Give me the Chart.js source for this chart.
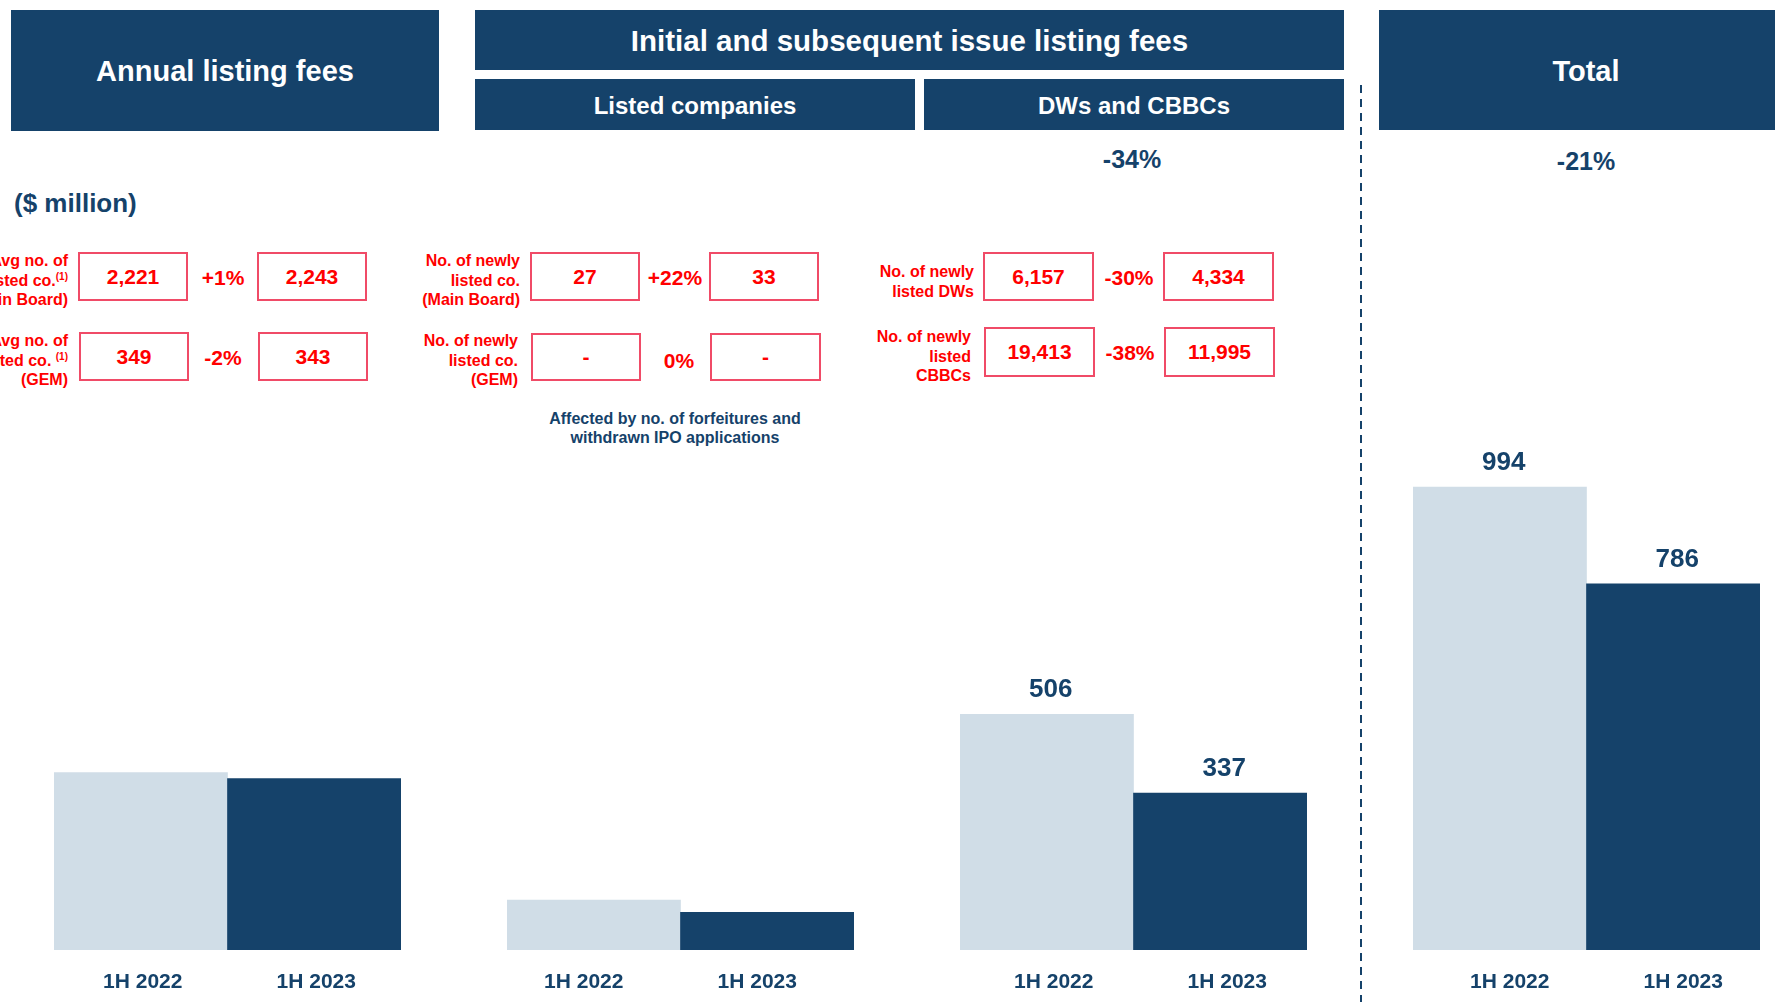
<!DOCTYPE html>
<html><head><meta charset="utf-8">
<script src="https://cdn.jsdelivr.net/npm/chart.js@4"></script>
<style>
html,body{margin:0;padding:0;background:#fff;}
body{width:1775px;height:1002px;position:relative;overflow:hidden;font-family:"Liberation Sans",Arial,sans-serif;font-weight:bold;}
.hdr{position:absolute;background:#15426a;color:#fff;display:flex;align-items:center;justify-content:center;white-space:nowrap;padding-top:2px;box-sizing:border-box;}
.box{position:absolute;border:2px solid #f04b67;box-sizing:border-box;color:#ff0000;font-size:21px;display:flex;align-items:center;justify-content:center;}
.pct{position:absolute;color:#ff0000;font-size:21px;transform:translate(-50%,-50%);white-space:nowrap;}
.lbl{position:absolute;color:#ff0000;font-size:16px;line-height:19.5px;text-align:right;white-space:nowrap;}
.lbl sup{font-size:10px;vertical-align:6px;line-height:0;}
.navy{position:absolute;color:#15426a;white-space:nowrap;}
.cw{position:absolute;top:391px;width:347px;height:611px;}
.dash{position:absolute;left:1360px;top:85px;width:2px;height:917px;background:repeating-linear-gradient(to bottom,#15426a 0 8px,transparent 8px 14px);}
</style></head>
<body>
<div class="hdr" style="left:11px;top:10px;width:428px;height:121px;font-size:29px;">Annual listing fees</div>
<div class="hdr" style="left:475px;top:10px;width:869px;height:60px;font-size:29.5px;">Initial and subsequent issue listing fees</div>
<div class="hdr" style="left:475px;top:79px;width:440px;height:51px;font-size:24px;">Listed companies</div>
<div class="hdr" style="left:924px;top:79px;width:420px;height:51px;font-size:24px;">DWs and CBBCs</div>
<div class="hdr" style="left:1379px;top:10px;width:420px;height:120px;font-size:29px;justify-content:flex-start;"><span style="position:absolute;left:207px;transform:translateX(-50%);">Total</span></div>
<div class="dash"></div>

<div class="navy" style="left:1132px;top:159px;font-size:25px;transform:translate(-50%,-50%);">-34%</div>
<div class="navy" style="left:1586px;top:161px;font-size:25px;transform:translate(-50%,-50%);">-21%</div>
<div class="navy" style="left:14px;top:203px;font-size:26px;transform:translateY(-50%);">($ million)</div>
<div class="navy" style="left:675px;top:409px;font-size:16px;line-height:19px;text-align:center;transform:translateX(-50%);">Affected by no. of forfeitures and<br>withdrawn IPO applications</div>

<div class="lbl" style="right:1707px;top:251px;">Avg no. of<br>listed co.<sup>(1)</sup><br>(Main Board)</div>
<div class="box" style="left:78px;top:252px;width:110px;height:49px;">2,221</div>
<div class="pct" style="left:223px;top:278px;">+1%</div>
<div class="box" style="left:257px;top:252px;width:110px;height:49px;">2,243</div>

<div class="lbl" style="right:1707px;top:331px;">Avg no. of<br>listed co. <sup>(1)</sup><br>(GEM)</div>
<div class="box" style="left:79px;top:332px;width:110px;height:49px;">349</div>
<div class="pct" style="left:223px;top:358px;">-2%</div>
<div class="box" style="left:258px;top:332px;width:110px;height:49px;">343</div>

<div class="lbl" style="right:1255px;top:251px;">No. of newly<br>listed co.<br>(Main Board)</div>
<div class="box" style="left:530px;top:252px;width:110px;height:49px;">27</div>
<div class="pct" style="left:675px;top:278px;">+22%</div>
<div class="box" style="left:709px;top:252px;width:110px;height:49px;">33</div>

<div class="lbl" style="right:1257px;top:331px;">No. of newly<br>listed co.<br>(GEM)</div>
<div class="box" style="left:531px;top:333px;width:110px;height:48px;">-</div>
<div class="pct" style="left:679px;top:361px;">0%</div>
<div class="box" style="left:710px;top:333px;width:111px;height:48px;">-</div>

<div class="lbl" style="right:801px;top:262px;">No. of newly<br>listed DWs</div>
<div class="box" style="left:983px;top:252px;width:111px;height:49px;">6,157</div>
<div class="pct" style="left:1129px;top:278px;">-30%</div>
<div class="box" style="left:1163px;top:252px;width:111px;height:49px;">4,334</div>

<div class="lbl" style="right:804px;top:327px;">No. of newly<br>listed<br>CBBCs</div>
<div class="box" style="left:984px;top:327px;width:111px;height:50px;">19,413</div>
<div class="pct" style="left:1130px;top:353px;">-38%</div>
<div class="box" style="left:1164px;top:327px;width:111px;height:50px;">11,995</div>

<div class="cw" style="left:54px;"><canvas id="c1" width="347" height="611"></canvas></div>
<div class="cw" style="left:507px;"><canvas id="c2" width="347" height="611"></canvas></div>
<div class="cw" style="left:960px;"><canvas id="c3" width="347" height="611"></canvas></div>
<div class="cw" style="left:1413px;"><canvas id="c4" width="347" height="611"></canvas></div>

<script>
const categories = ['1H 2022', '1H 2023'];
const annualFees = [381, 368];
const listedCoFees = [107, 81];
const dwCbbcFees = [506, 337];
const totalFees = [994, 786];

const NAVY = '#15426a';
const LIGHT = '#d0dde7';
const FONT = '"Liberation Sans", Arial, sans-serif';

const valueLabels = {
  id: 'valueLabels',
  afterDatasetsDraw(chart, args, opts) {
    if (!opts.show) return;
    const ctx = chart.ctx;
    const meta = chart.getDatasetMeta(0);
    const data = chart.data.datasets[0].data;
    ctx.save();
    ctx.fillStyle = NAVY;
    ctx.font = 'bold 26px ' + FONT;
    ctx.textAlign = 'center';
    ctx.textBaseline = 'middle';
    meta.data.forEach((bar, i) => {
      ctx.fillText(String(data[i]), bar.x + 4, bar.y - 24);
    });
    ctx.restore();
  }
};

function makeChart(id, values, showLabels, labelShift) {
  new Chart(document.getElementById(id), {
    type: 'bar',
    data: {
      labels: categories,
      datasets: [{
        data: values,
        backgroundColor: [LIGHT, NAVY],
        borderWidth: 0,
        barPercentage: 1,
        categoryPercentage: 1
      }]
    },
    options: {
      responsive: false,
      animation: false,
      devicePixelRatio: 1,
      layout: { padding: 0 },
      plugins: {
        legend: { display: false },
        tooltip: { enabled: false },
        valueLabels: { show: showLabels }
      },
      scales: {
        x: {
          grid: { display: false, drawTicks: false },
          border: { display: false },
          ticks: { color: NAVY, padding: 20, labelOffset: labelShift, font: { family: FONT, size: 21, weight: 'bold' } },
          afterFit(axis) { axis.height = 52; }
        },
        y: { display: false, min: 0, max: 1200 }
      }
    },
    plugins: [valueLabels]
  });
}

makeChart('c1', annualFees, false, 2);
makeChart('c2', listedCoFees, false, -10);
makeChart('c3', dwCbbcFees, true, 7);
makeChart('c4', totalFees, true, 10);
</script>
</body></html>
